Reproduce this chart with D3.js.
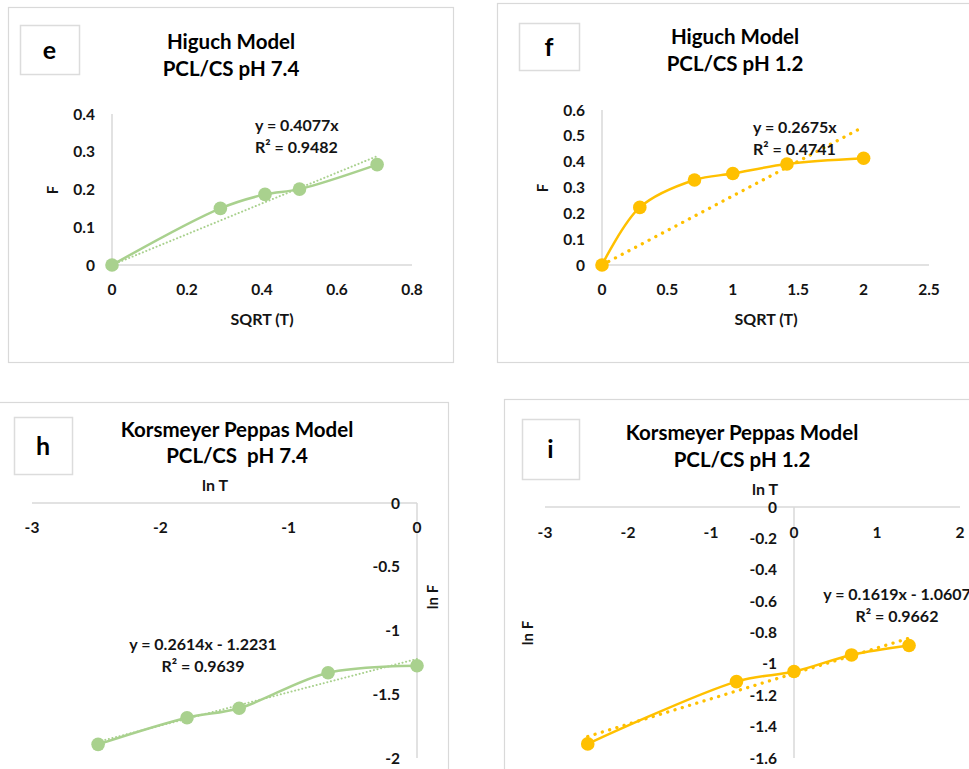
<!DOCTYPE html>
<html>
<head>
<meta charset="utf-8">
<script src="https://cdn.jsdelivr.net/npm/d3@7"></script>
<style>
  body { margin: 0; background: #fff; }
  svg { display: block; }
  text { font-family: Lato, "Open Sans", sans-serif; font-weight: 700; }
</style>
</head>
<body>
<svg id="chart" width="969" height="769"></svg>
<script>
// ---- Higuchi model, PCL/CS pH 7.4 ----
const higXSqrtT74 = [0, 0.289, 0.408, 0.5, 0.707];
const higF74 = [0, 0.150, 0.187, 0.201, 0.266];
const higFit74 = { slope: 0.4077, intercept: 0, r2: "0.9482" };
const higXTicks74 = [0, 0.2, 0.4, 0.6, 0.8];
const higYTicks74 = [0, 0.1, 0.2, 0.3, 0.4];

// ---- Higuchi model, PCL/CS pH 1.2 ----
const higXSqrtT12 = [0, 0.289, 0.707, 1, 1.414, 2];
const higF12 = [0, 0.223, 0.329, 0.354, 0.391, 0.413];
const higFit12 = { slope: 0.2675, intercept: 0, r2: "0.4741" };
const higXTicks12 = [0, 0.5, 1, 1.5, 2, 2.5];
const higYTicks12 = [0, 0.1, 0.2, 0.3, 0.4, 0.5, 0.6];

// ---- Korsmeyer-Peppas model, PCL/CS pH 7.4 ----
const kpLnT74 = [-2.485, -1.792, -1.386, -0.693, 0];
const kpLnF74 = [-1.893, -1.684, -1.610, -1.331, -1.276];
const kpFit74 = { slope: 0.2614, intercept: -1.2231, r2: "0.9639" };
const kpXTicks74 = [-3, -2, -1, 0];
const kpYTicks74 = [0, -0.5, -1, -1.5, -2];

// ---- Korsmeyer-Peppas model, PCL/CS pH 1.2 ----
const kpLnT12 = [-2.485, -0.693, 0, 0.693, 1.386];
const kpLnF12 = [-1.510, -1.113, -1.049, -0.943, -0.883];
const kpFit12 = { slope: 0.1619, intercept: -1.0607, r2: "0.9662" };
const kpXTicks12 = [-3, -2, -1, 0, 1, 2];
const kpYTicks12 = [0, -0.2, -0.4, -0.6, -0.8, -1, -1.2, -1.4, -1.6];

const GREEN = "#a9d18e";
const GOLD = "#ffc000";
const GRID = "#d9d9d9";
const INK = "#141414";

const svg = d3.select("#chart");
svg.append("rect").attr("width", 969).attr("height", 769).attr("fill", "#fff");

const fmt = d => String(d);

function fitLabel(fit) {
  const s = fit.slope.toFixed(4) + "x";
  if (fit.intercept === 0) return "y = " + s;
  const sign = fit.intercept < 0 ? " - " : " + ";
  return "y = " + s + sign + Math.abs(fit.intercept).toFixed(4);
}

function panel(cfg) {
  const g = svg.append("g");

  // chart frame
  g.append("rect")
    .attr("x", cfg.frame[0] + 0.5).attr("y", cfg.frame[1] + 0.5)
    .attr("width", cfg.frame[2]).attr("height", cfg.frame[3])
    .attr("fill", "#fff").attr("stroke", GRID).attr("stroke-width", 1.2);

  // panel letter box
  g.append("rect")
    .attr("x", cfg.box[0] + 0.5).attr("y", cfg.box[1] + 0.5)
    .attr("width", cfg.box[2]).attr("height", cfg.box[3])
    .attr("fill", "#fff").attr("stroke", "#dcdcdc").attr("stroke-width", 1.5);
  g.append("text")
    .attr("x", cfg.box[0] + cfg.box[2] / 2).attr("y", cfg.box[1] + cfg.box[3] / 2)
    .attr("dy", "0.36em").attr("text-anchor", "middle")
    .attr("font-size", 25).attr("fill", "#000").text(cfg.letter);

  // title
  cfg.title.forEach((line, i) => {
    g.append("text")
      .attr("x", cfg.titleX).attr("y", cfg.titleY[i])
      .attr("text-anchor", "middle").attr("font-size", 20.5).attr("fill", "#000")
      .attr("xml:space", "preserve")
      .text(line);
  });

  const x = d3.scaleLinear().domain(cfg.xDomain).range(cfg.xRange);
  const y = d3.scaleLinear().domain(cfg.yDomain).range(cfg.yRange);

  const x0 = cfg.yAxisAt === "zero" ? x(0) : cfg.xRange[0];
  const y0 = y(0);

  // axis lines
  g.append("line")
    .attr("x1", cfg.xRange[0]).attr("x2", cfg.xRange[1])
    .attr("y1", y0).attr("y2", y0)
    .attr("stroke", GRID).attr("stroke-width", 1.5);
  g.append("line")
    .attr("x1", x0).attr("x2", x0)
    .attr("y1", d3.min(cfg.yRange)).attr("y2", d3.max(cfg.yRange))
    .attr("stroke", GRID).attr("stroke-width", 1.5);

  // x tick labels
  g.append("g").selectAll("text").data(cfg.xTicks).join("text")
    .attr("x", d => x(d)).attr("y", y0 + cfg.xLabelOffset)
    .attr("dy", "0.36em").attr("text-anchor", "middle")
    .attr("font-size", 15.5).attr("fill", INK).text(fmt);

  // y tick labels
  g.append("g").selectAll("text").data(cfg.yTicks).join("text")
    .attr("x", x0 - 17).attr("y", d => y(d))
    .attr("dy", "0.36em").attr("text-anchor", "end")
    .attr("font-size", 15.5).attr("fill", INK).text(fmt);

  // axis titles
  g.append("text")
    .attr("x", cfg.xTitle[0]).attr("y", cfg.xTitle[1])
    .attr("text-anchor", "middle").attr("font-size", 16).attr("fill", INK)
    .text(cfg.xTitleText);
  g.append("text")
    .attr("transform", `translate(${cfg.yTitle[0]},${cfg.yTitle[1]}) rotate(-90)`)
    .attr("dy", "0.36em").attr("text-anchor", "middle")
    .attr("font-size", 15).attr("fill", INK)
    .text(cfg.yTitleText);

  // linear trendline across the data range
  const xs = d3.extent(cfg.xs);
  g.append("line")
    .attr("x1", x(xs[0])).attr("y1", y(cfg.fit.slope * xs[0] + cfg.fit.intercept))
    .attr("x2", x(xs[1])).attr("y2", y(cfg.fit.slope * xs[1] + cfg.fit.intercept))
    .attr("stroke", cfg.color)
    .attr("stroke-width", cfg.dotWidth)
    .attr("stroke-linecap", "round")
    .attr("stroke-dasharray", cfg.dotDash);

  // smoothed data line
  const pts = cfg.xs.map((v, i) => [v, cfg.ys[i]]);
  const line = d3.line()
    .x(d => x(d[0])).y(d => y(d[1]))
    .curve(d3.curveCatmullRom.alpha(0.5));
  g.append("path").datum(pts)
    .attr("d", line).attr("fill", "none")
    .attr("stroke", cfg.color).attr("stroke-width", 2.5);

  // markers
  g.append("g").selectAll("circle").data(pts).join("circle")
    .attr("cx", d => x(d[0])).attr("cy", d => y(d[1]))
    .attr("r", 6.8).attr("fill", cfg.color);

  // equation label
  const eq = g.append("text")
    .attr("font-size", 16).attr("fill", INK)
    .attr("text-anchor", cfg.eqAnchor);
  eq.append("tspan").attr("x", cfg.eq[0]).attr("y", cfg.eq[1]).text(fitLabel(cfg.fit));
  eq.append("tspan").attr("x", cfg.eq[0]).attr("y", cfg.eq[1] + 22).text("R² = " + cfg.fit.r2);
}

panel({
  frame: [8, 7, 445, 355], box: [20, 25, 59, 49], letter: "e",
  title: ["Higuch Model", "PCL/CS pH 7.4"], titleX: 231, titleY: [49, 76],
  xDomain: [0, 0.8], xRange: [112, 412], yDomain: [0, 0.4], yRange: [265, 114],
  xTicks: higXTicks74, yTicks: higYTicks74, xLabelOffset: 24, yAxisAt: "left",
  xTitle: [262, 325], xTitleText: "SQRT (T)", yTitle: [53, 190], yTitleText: "F",
  xs: higXSqrtT74, ys: higF74, fit: higFit74, color: GREEN,
  dotWidth: 2, dotDash: "0.1 3.6",
  eq: [255, 131], eqAnchor: "start"
});

panel({
  frame: [497, 3, 480, 359], box: [519, 23, 60, 47], letter: "f",
  title: ["Higuch Model", "PCL/CS pH 1.2"], titleX: 735, titleY: [44, 71],
  xDomain: [0, 2.5], xRange: [602, 929], yDomain: [0, 0.6], yRange: [265, 110],
  xTicks: higXTicks12, yTicks: higYTicks12, xLabelOffset: 24, yAxisAt: "left",
  xTitle: [766, 325], xTitleText: "SQRT (T)", yTitle: [543, 188], yTitleText: "F",
  xs: higXSqrtT12, ys: higF12, fit: higFit12, color: GOLD,
  dotWidth: 3.3, dotDash: "0.1 7.5",
  eq: [753, 133], eqAnchor: "start"
});

panel({
  frame: [-2, 402, 450, 400], box: [14, 417, 58, 57], letter: "h",
  title: ["Korsmeyer Peppas Model", "PCL/CS  pH 7.4"], titleX: 237, titleY: [437, 463],
  xDomain: [-3, 0], xRange: [32, 417], yDomain: [0, -2], yRange: [503, 758],
  xTicks: kpXTicks74, yTicks: kpYTicks74, xLabelOffset: 24, yAxisAt: "zero",
  xTitle: [215, 491], xTitleText: "ln T", yTitle: [433, 597], yTitleText: "ln F",
  xs: kpLnT74, ys: kpLnF74, fit: kpFit74, color: GREEN,
  dotWidth: 2, dotDash: "0.1 3.6",
  eq: [203, 650], eqAnchor: "middle"
});

panel({
  frame: [504, 399, 480, 400], box: [522, 419, 57, 60], letter: "i",
  title: ["Korsmeyer Peppas Model", "PCL/CS pH 1.2"], titleX: 742, titleY: [440, 467],
  xDomain: [-3, 2], xRange: [545, 960], yDomain: [0, -1.6], yRange: [507, 758],
  xTicks: kpXTicks12, yTicks: kpYTicks12, xLabelOffset: 25, yAxisAt: "zero",
  xTitle: [765, 495], xTitleText: "ln T", yTitle: [528, 633], yTitleText: "ln F",
  xs: kpLnT12, ys: kpLnF12, fit: kpFit12, color: GOLD,
  dotWidth: 3.3, dotDash: "0.1 7.5",
  eq: [897, 600], eqAnchor: "middle"
});
</script>
</body>
</html>
